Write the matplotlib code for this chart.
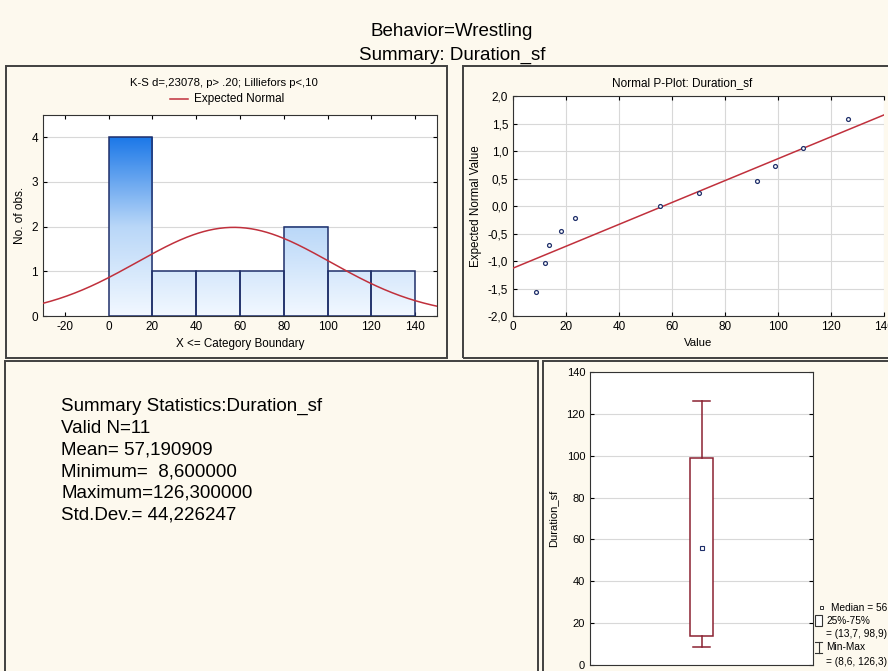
import numpy as np
import matplotlib
matplotlib.use("Agg")
import matplotlib.pyplot as plt
from matplotlib.patches import Rectangle
from matplotlib.lines import Line2D

plt.rcParams['font.family'] = ['Liberation Sans', 'DejaVu Sans']
plt.rcParams['axes.unicode_minus'] = False

# ---------------- data ----------------
title_lines = ["Behavior=Wrestling", "Summary: Duration_sf"]
bin_edges = [0, 20, 40, 60, 80, 100, 120, 140]
bin_counts = [4, 1, 1, 1, 2, 1, 1]
n_valid = 11
mean_val = 57.190909
min_val = 8.6
max_val = 126.3
std_val = 44.226247
median_val = 56.0
q1_val = 13.7
q3_val = 98.9
hist_title = "K-S d=,23078, p> .20; Lilliefors p<,10"
pp_values = [8.6, 12.2, 13.7, 18.0, 23.5, 55.5, 70.0, 92.0, 98.9, 109.5, 126.3]
pp_expected = [-1.57, -1.04, -0.71, -0.45, -0.21, 0.0, 0.24, 0.46, 0.73, 1.05, 1.58]
pp_line_intercept = -1.13
pp_line_slope = 0.0199
hist_xticks = [-20, 0, 20, 40, 60, 80, 100, 120, 140]
hist_yticks = [0, 1, 2, 3, 4]
pp_xticks = [0, 20, 40, 60, 80, 100, 120, 140]
pp_yticks = [-2.0, -1.5, -1.0, -0.5, 0.0, 0.5, 1.0, 1.5, 2.0]
box_yticks = [0, 20, 40, 60, 80, 100, 120, 140]

W, H = 888, 671
BG = '#FDF9EE'
NAVY = '#1F2F6A'
RED = '#C0303C'
GRID = '#D8D8D8'


def px(l, t, r, b):
    return [l / W, 1 - b / H, (r - l) / W, (b - t) / H]


def fmt_c(v, d):
    return f"{v:.{d}f}".replace('.', ',')


fig = plt.figure(figsize=(W / 100, H / 100), dpi=100, facecolor=BG)

# panel frames
for (l, t, r, b) in [(6, 66, 447, 358), (463, 66, 895, 358), (5, 361, 538, 676), (543, 361, 895, 676)]:
    fig.patches.append(Rectangle((l / W, 1 - b / H), (r - l) / W, (b - t) / H,
                                 transform=fig.transFigure, fill=False,
                                 edgecolor='#404040', linewidth=1.4))

# titles
fig.text(452 / W, 1 - 32 / H, title_lines[0], ha='center', va='center', fontsize=13.5)
fig.text(452 / W, 1 - 55 / H, title_lines[1], ha='center', va='center', fontsize=13.5)

tick_fs = 8.5

# ---------------- histogram ----------------
ax1 = fig.add_axes(px(43, 115, 437, 316))
ax1.set_facecolor('white')
ax1.yaxis.grid(True, color=GRID, linewidth=0.8)
ax1.set_axisbelow(True)
cmap = matplotlib.colors.LinearSegmentedColormap.from_list('g', ['#F2F8FF', '#B9D7F8', '#1C78E8'])
grad = np.linspace(0, 1, 256).reshape(-1, 1)
for i, c in enumerate(bin_counts):
    x0, x1 = bin_edges[i], bin_edges[i + 1]
    ax1.imshow(grad * c / 4.0, extent=[x0, x1, 0, c], origin='lower', cmap=cmap,
               vmin=0, vmax=1, aspect='auto', zorder=2)
    ax1.add_patch(Rectangle((x0, 0), x1 - x0, c, facecolor='none', edgecolor=NAVY,
                            linewidth=1.1, zorder=3))
ax1.set_xlim(-30, 150)
ax1.set_ylim(0, 4.5)
ax1.set_yticks(hist_yticks)
ax1.set_xticks(hist_xticks)
xs = np.linspace(-30, 150, 300)
binw = bin_edges[1] - bin_edges[0]
ys = n_valid * binw / (std_val * np.sqrt(2 * np.pi)) * np.exp(-0.5 * ((xs - mean_val) / std_val) ** 2)
ax1.plot(xs, ys, color=RED, linewidth=1.1, zorder=4)
ax1.tick_params(labelsize=tick_fs, direction='in', top=True, right=True, length=3)
ax1.set_ylabel("No. of obs.", fontsize=8.5, labelpad=4)
ax1.set_xlabel("X <= Category Boundary", fontsize=8.4, labelpad=4)
for s in ax1.spines.values():
    s.set_color('#333333')
fig.text(224 / W, 1 - 83 / H, hist_title, ha='center', va='center', fontsize=8.2)
fig.lines.append(Line2D([170 / W, 188 / W], [1 - 99 / H, 1 - 99 / H], transform=fig.transFigure,
                        color=RED, linewidth=1.1))
fig.text(194 / W, 1 - 99 / H, "Expected Normal", ha='left', va='center', fontsize=8.5)

# ---------------- normal P-plot ----------------
ax2 = fig.add_axes(px(513, 96, 884, 316))
ax2.set_facecolor('white')
ax2.set_xlim(0, 140)
ax2.set_ylim(-2, 2)
ax2.set_xticks(pp_xticks)
ax2.set_yticks(pp_yticks)
ax2.set_yticklabels([fmt_c(v, 1) for v in pp_yticks])
ax2.grid(True, color=GRID, linewidth=0.8)
ax2.set_axisbelow(True)
lx = np.array([0, 140])
ax2.plot(lx, pp_line_intercept + pp_line_slope * lx, color=RED, linewidth=1.1, zorder=3)
ax2.plot(pp_values, pp_expected, linestyle='none', marker='o', ms=2.8, mfc='white',
         mec=NAVY, mew=0.9, zorder=4)
ax2.tick_params(labelsize=tick_fs, direction='in', top=True, right=False, length=3)
ax2.spines['right'].set_visible(False)
ax2.set_ylabel("Expected Normal Value", fontsize=8.4, labelpad=4)
ax2.set_xlabel("Value", fontsize=8.2, labelpad=4)
for s in ax2.spines.values():
    s.set_color('#333333')
fig.text(682 / W, 1 - 83 / H, "Normal P-Plot: Duration_sf", ha='center', va='center', fontsize=8.5)

# ---------------- summary text ----------------
summary = [
    "Summary Statistics:Duration_sf",
    f"Valid N={n_valid}",
    f"Mean= {fmt_c(mean_val, 6)}",
    f"Minimum=  {fmt_c(min_val, 6)}",
    f"Maximum={fmt_c(max_val, 6)}",
    f"Std.Dev.= {fmt_c(std_val, 6)}",
]
for i, line in enumerate(summary):
    fig.text(61 / W, 1 - (411 + i * 21.7) / H, line, ha='left', va='baseline', fontsize=13.5)

# ---------------- box plot ----------------
ax3 = fig.add_axes(px(590, 372, 813, 665))
ax3.set_facecolor('white')
ax3.set_ylim(0, 140)
ax3.set_xlim(0, 1)
ax3.set_yticks(box_yticks)
ax3.set_xticks([])
ax3.yaxis.grid(True, color=GRID, linewidth=0.8)
ax3.set_axisbelow(True)
BOXC = '#8B2232'
cx, hw, cw = 0.5, 0.05, 0.036
ax3.add_patch(Rectangle((cx - hw, q1_val), 2 * hw, q3_val - q1_val, facecolor='white',
                        edgecolor=BOXC, linewidth=1.1, zorder=3))
ax3.plot([cx, cx], [q3_val, max_val], color=BOXC, linewidth=1.1, zorder=3)
ax3.plot([cx, cx], [min_val, q1_val], color=BOXC, linewidth=1.1, zorder=3)
ax3.plot([cx - cw, cx + cw], [max_val, max_val], color=BOXC, linewidth=1.1, zorder=3)
ax3.plot([cx - cw, cx + cw], [min_val, min_val], color=BOXC, linewidth=1.1, zorder=3)
ax3.plot([cx], [median_val], marker='s', ms=2.5, mfc='white', mec=NAVY, mew=0.8, zorder=4)
ax3.tick_params(labelsize=8, direction='in', right=True, length=3)
ax3.set_ylabel("Duration_sf", fontsize=8, labelpad=6)
for s in ax3.spines.values():
    s.set_color('#333333')

leg_fs = 7.3
fig.patches.append(Rectangle((819.5 / W, 1 - 608.5 / H), 3 / W, 3 / H, transform=fig.transFigure,
                             facecolor='white', edgecolor='#333333', linewidth=0.7))
fig.text(831 / W, 1 - 607 / H, f"Median = {fmt_c(median_val, 1)}", fontsize=leg_fs, va='center')
fig.patches.append(Rectangle((815 / W, 1 - 626 / H), 7 / W, 11 / H, transform=fig.transFigure,
                             facecolor='white', edgecolor='#333333', linewidth=0.8))
fig.text(826 / W, 1 - 621 / H, "25%-75%", fontsize=leg_fs, va='center')
fig.text(826 / W, 1 - 634 / H, f"= ({fmt_c(q1_val, 1)}, {fmt_c(q3_val, 1)})", fontsize=leg_fs, va='center')
fig.lines.append(Line2D([818.5 / W, 818.5 / W], [1 - 642 / H, 1 - 653 / H], transform=fig.transFigure,
                        color='#333333', linewidth=0.8))
for yy in (642, 653):
    fig.lines.append(Line2D([815 / W, 822 / W], [1 - yy / H, 1 - yy / H], transform=fig.transFigure,
                            color='#333333', linewidth=0.8))
fig.text(826 / W, 1 - 647 / H, "Min-Max", fontsize=leg_fs, va='center')
fig.text(826 / W, 1 - 662 / H, f"= ({fmt_c(min_val, 1)}, {fmt_c(max_val, 1)})", fontsize=leg_fs, va='center')

fig.savefig("out.png", dpi=100, facecolor=BG)
